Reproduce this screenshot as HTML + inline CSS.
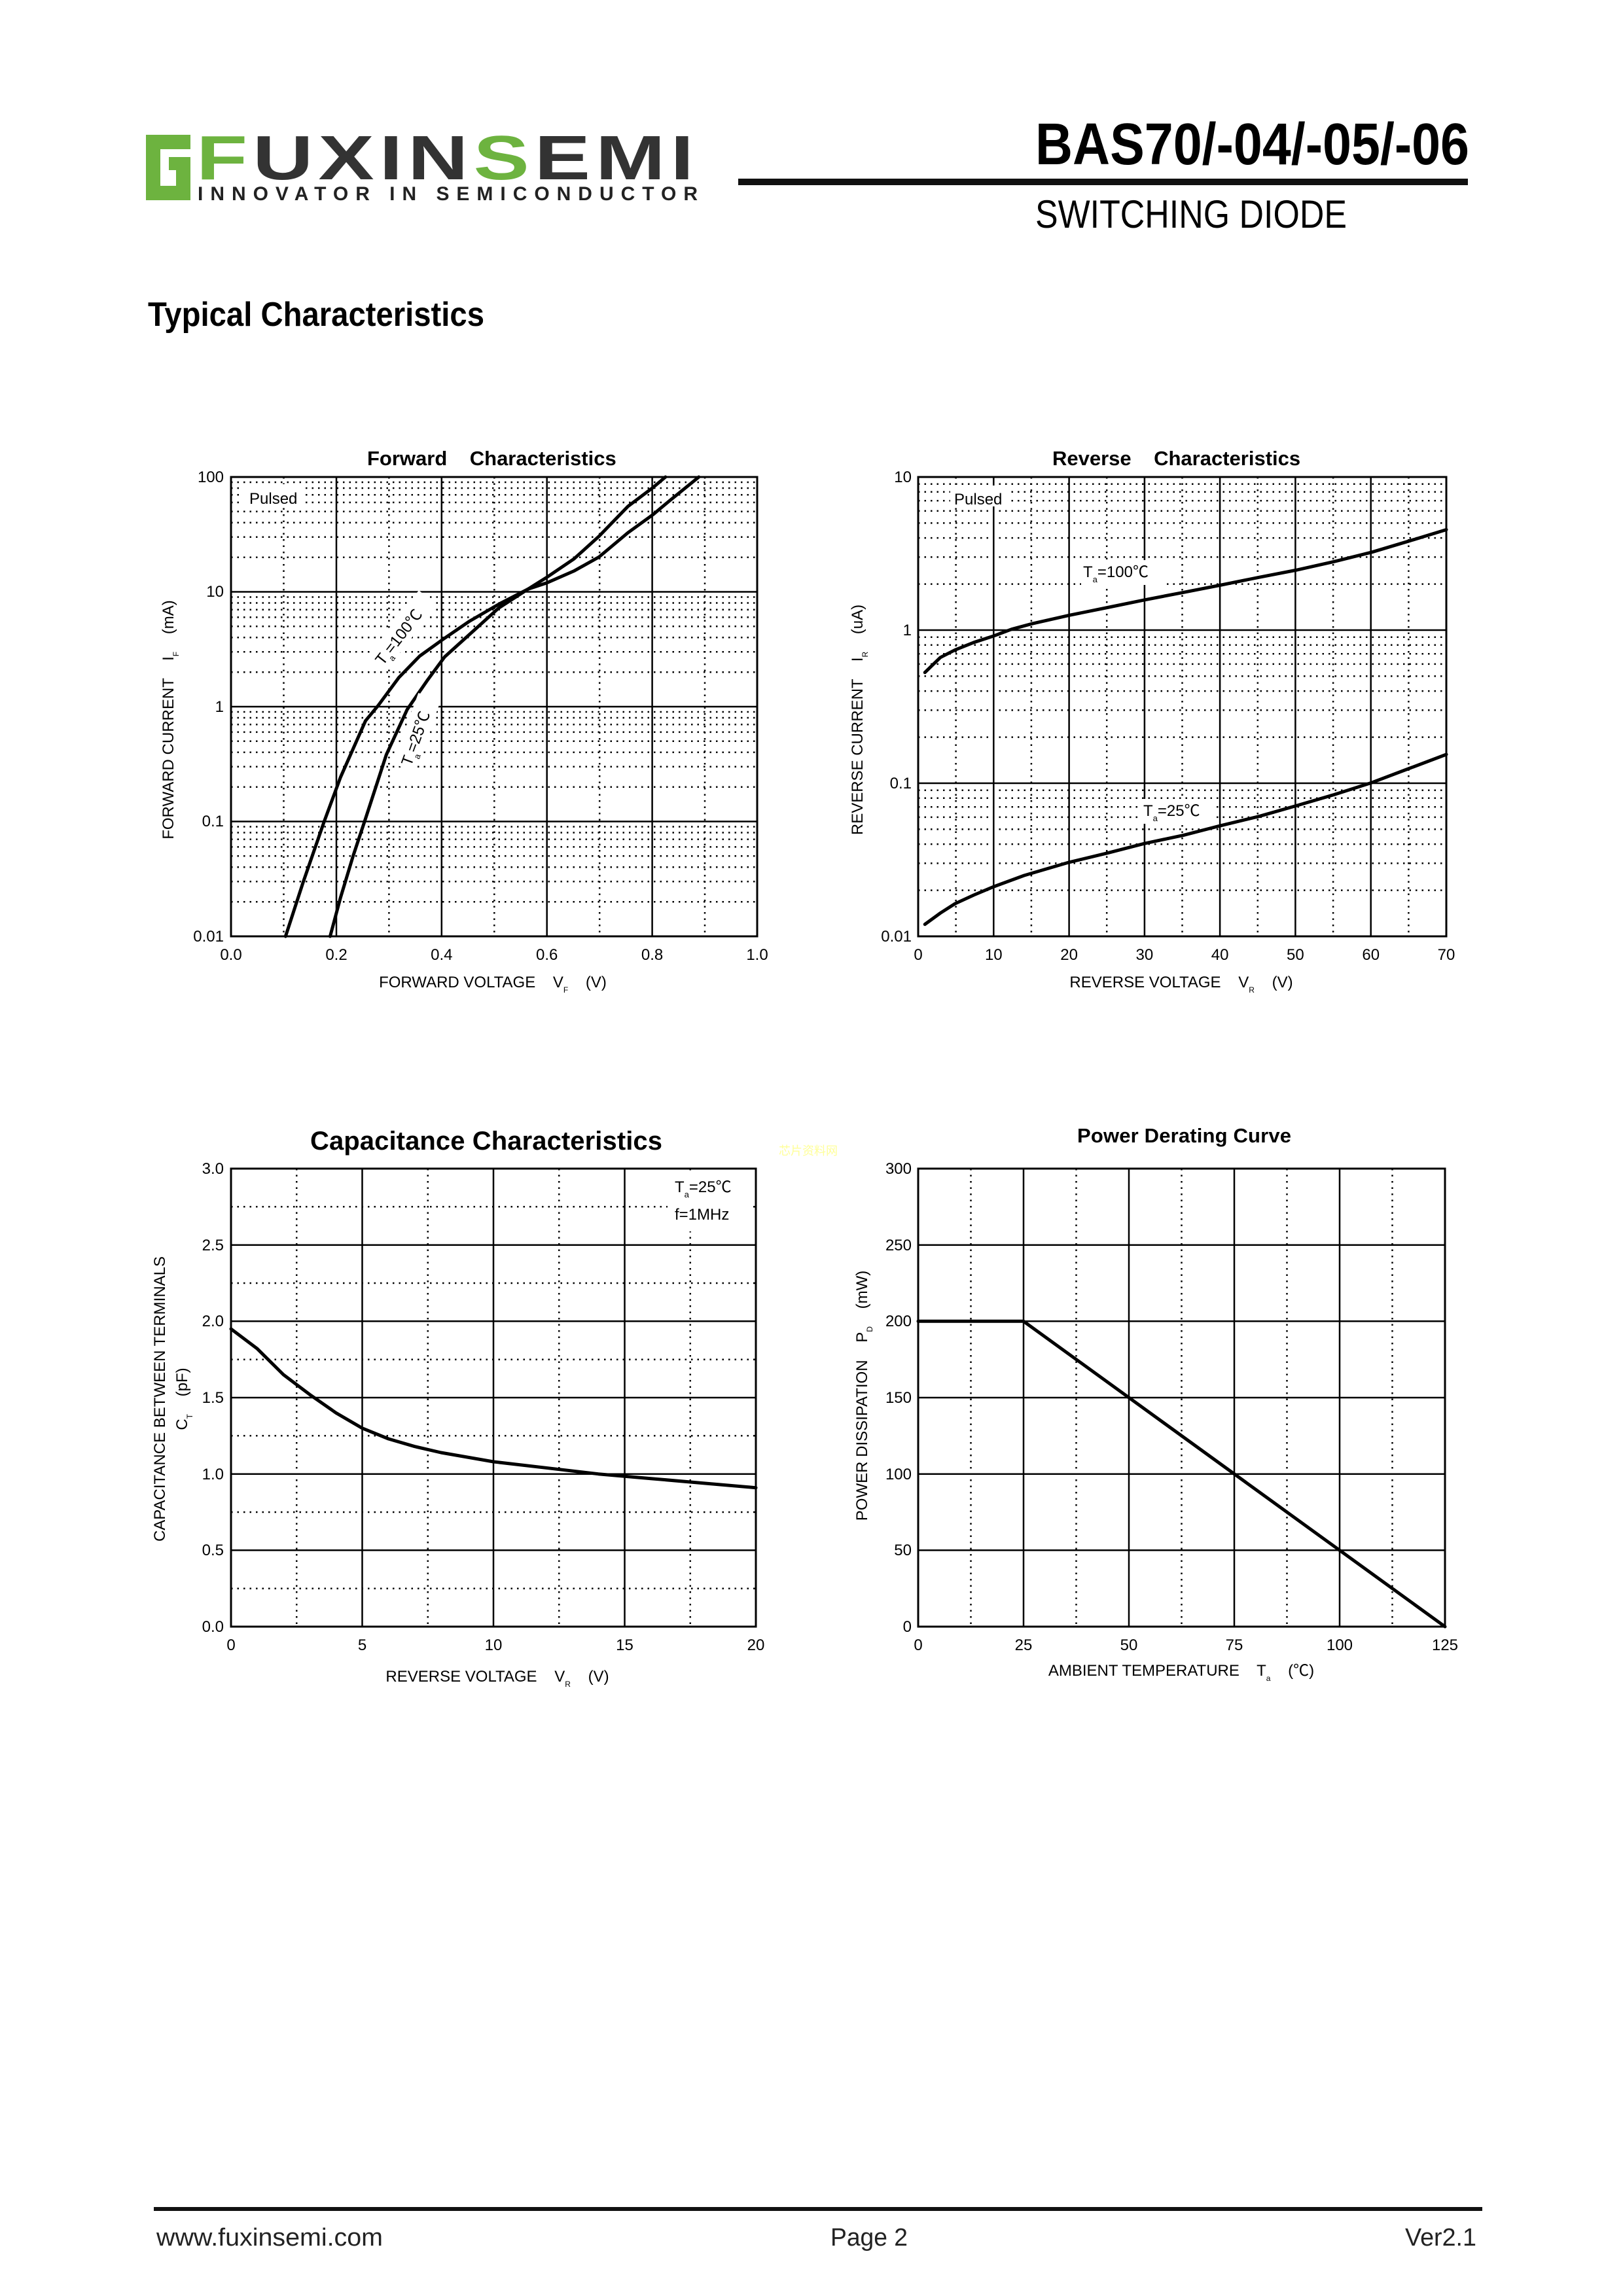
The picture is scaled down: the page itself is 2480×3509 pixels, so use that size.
<!DOCTYPE html>
<html><head><meta charset="utf-8"><style>
html,body{margin:0;padding:0;background:#fff;}
svg{display:block;}
text{font-family:"Liberation Sans","Noto Sans CJK SC",sans-serif;fill:#000;}
.t{font-size:24px;}
.b{font-weight:bold;}
.mj{stroke:#000;stroke-width:2.5;fill:none;}
.dt{stroke:#000;stroke-width:2.5;stroke-dasharray:2.5 7;fill:none;}
.fr{stroke:#000;stroke-width:3;fill:none;}
.cv{stroke:#000;stroke-width:5;fill:none;stroke-linejoin:round;stroke-linecap:round;}
</style></head><body>
<svg width="2480" height="3509" viewBox="0 0 2480 3509" xmlns="http://www.w3.org/2000/svg">
<rect width="2480" height="3509" fill="#fff"/>
<!-- Logo -->
<g fill="#6db33f">
<rect x="223" y="206" width="68" height="22"/>
<rect x="223" y="206" width="22" height="100"/>
<rect x="223" y="284" width="68" height="22"/>
<rect x="258" y="240" width="33" height="20"/>
<rect x="269" y="240" width="22" height="66"/>
</g>
<text x="300" y="274" font-size="96" font-weight="bold" textLength="768" lengthAdjust="spacingAndGlyphs" style="fill:#333;letter-spacing:6px"><tspan style="fill:#6db33f">F</tspan>UXIN<tspan style="fill:#6db33f">S</tspan>EMI</text>
<text x="302" y="306" font-size="30" font-weight="bold" textLength="764" lengthAdjust="spacing" style="fill:#222">INNOVATOR IN SEMICONDUCTOR</text>
<!-- Header -->
<text x="1582" y="251" font-size="90" class="b" textLength="663" lengthAdjust="spacingAndGlyphs">BAS70/-04/-05/-06</text>
<rect x="1128" y="273" width="1115" height="10" fill="#111"/>
<text x="1582" y="348" font-size="60" textLength="476" lengthAdjust="spacingAndGlyphs">SWITCHING DIODE</text>
<text x="226" y="498" font-size="52" class="b" textLength="514" lengthAdjust="spacingAndGlyphs">Typical Characteristics</text>

<!-- ===== Forward ===== -->
<text x="561" y="711" font-size="31" class="b" xml:space="preserve">Forward    Characteristics</text>
<g class="dt">
<path d="M353 1378.2H1157M353 1347.3H1157M353 1325.3H1157M353 1308.3H1157M353 1294.4H1157M353 1282.7H1157M353 1272.5H1157M353 1263.5H1157"/>
<path d="M353 1202.7H1157M353 1171.8H1157M353 1149.8H1157M353 1132.8H1157M353 1118.9H1157M353 1107.2H1157M353 1097H1157M353 1088H1157"/>
<path d="M353 1027.2H1157M353 996.3H1157M353 974.3H1157M353 957.3H1157M353 943.4H1157M353 931.7H1157M353 921.5H1157M353 912.5H1157"/>
<path d="M353 851.7H1157M353 820.8H1157M353 798.8H1157M353 781.8H1157M353 767.9H1157M353 756.2H1157M353 746H1157M353 737H1157"/>
<path d="M433.5 729V1431M594.4 729V1431M755.3 729V1431M916.2 729V1431M1077 729V1431"/>
</g>
<path class="mj" d="M353 1255.5H1157M353 1080H1157M353 904.5H1157M514 729V1431M674.8 729V1431M835.7 729V1431M996.6 729V1431"/>
<rect x="372" y="740" width="90" height="32" fill="#fff"/>
<text x="381" y="770" class="t">Pulsed</text>
<g transform="matrix(0.6365 0 0 0.5749 221.2 658.9)">
<path class="cv" vector-effect="non-scaling-stroke" d="M338 1343L380 1200L430 1040L470 920L530 770L560 730L610 655L660 598L714 555L780 505L850 460L920 420L966 388L1030 340L1090 280L1160 200L1220 150L1250 122"/>
<path class="cv" vector-effect="non-scaling-stroke" d="M445 1343L470 1240L500 1130L530 1030L580 860L630 740L680 660L720 600L790 530L850 470L920 420L966 403L1030 372L1090 335L1160 270L1220 222L1260 185L1330 122"/>
</g>
<g transform="translate(585,1018) rotate(-52)"><rect x="-5" y="-28" width="130" height="36" fill="#fff"/><text x="0" y="0" class="t">T<tspan font-size="13" dy="8">a</tspan><tspan dy="-8">=100℃</tspan></text></g>
<g transform="translate(628,1172) rotate(-70)"><rect x="-5" y="-28" width="115" height="36" fill="#fff"/><text x="0" y="0" class="t">T<tspan font-size="13" dy="8">a</tspan><tspan dy="-8">=25℃</tspan></text></g>
<rect x="353" y="729" width="804" height="702" class="fr"/>
<g class="t" text-anchor="end"><text x="342" y="737" class="t">100</text><text x="342" y="912" class="t">10</text><text x="342" y="1088" class="t">1</text><text x="342" y="1263" class="t">0.1</text><text x="342" y="1439" class="t">0.01</text></g>
<g text-anchor="middle"><text x="353" y="1467" class="t">0.0</text><text x="514" y="1467" class="t">0.2</text><text x="674.8" y="1467" class="t">0.4</text><text x="835.7" y="1467" class="t">0.6</text><text x="996.6" y="1467" class="t">0.8</text><text x="1157" y="1467" class="t">1.0</text></g>
<text x="753" y="1509" class="t" text-anchor="middle" xml:space="preserve">FORWARD VOLTAGE    V<tspan font-size="12" dy="8">F</tspan><tspan dy="-8">    (V)</tspan></text>
<text transform="translate(265,1100) rotate(-90)" class="t" text-anchor="middle" xml:space="preserve">FORWARD CURRENT    I<tspan font-size="12" dy="8">F</tspan><tspan dy="-8">    (mA)</tspan></text>

<!-- ===== Reverse ===== -->
<text x="1608" y="711" font-size="31" class="b" xml:space="preserve">Reverse    Characteristics</text>
<g class="dt">
<path d="M1403 1360.6H2210M1403 1319.4H2210M1403 1290.1H2210M1403 1267.4H2210M1403 1248.9H2210M1403 1233.2H2210M1403 1219.7H2210M1403 1207.7H2210"/>
<path d="M1403 1126.6H2210M1403 1085.4H2210M1403 1056.1H2210M1403 1033.4H2210M1403 1014.9H2210M1403 999.2H2210M1403 985.7H2210M1403 973.7H2210"/>
<path d="M1403 892.6H2210M1403 851.4H2210M1403 822.1H2210M1403 799.4H2210M1403 780.9H2210M1403 765.2H2210M1403 751.7H2210M1403 739.7H2210"/>
<path d="M1460.6 729V1431M1575.9 729V1431M1691.2 729V1431M1806.5 729V1431M1921.8 729V1431M2037.1 729V1431M2152.4 729V1431"/>
</g>
<path class="mj" d="M1403 1197H2210M1403 963H2210M1518.3 729V1431M1633.6 729V1431M1748.9 729V1431M1864.1 729V1431M1979.4 729V1431M2094.7 729V1431"/>
<rect x="1452" y="742" width="88" height="32" fill="#fff"/>
<text x="1458" y="771" class="t">Pulsed</text>
<g transform="matrix(0.640 0 0 0.5745 1244.9 648.6)">
<path class="cv" vector-effect="non-scaling-stroke" d="M263 660L300 620L335 600L380 580L427 563L470 545L520 530L607 508L700 487L787 467L880 447L967 428L1060 407L1148 388L1240 365L1330 340L1420 310L1508 280"/>
<path class="cv" vector-effect="non-scaling-stroke" d="M263 1330L300 1300L335 1275L380 1252L427 1230L500 1200L607 1165L700 1140L787 1115L880 1093L967 1068L1060 1043L1148 1015L1240 985L1330 953L1420 915L1508 878"/>
</g>
<rect x="1652" y="856" width="125" height="38" fill="#fff"/>
<text x="1655" y="882" class="t">T<tspan font-size="13" dy="8">a</tspan><tspan dy="-8">=100℃</tspan></text>
<rect x="1744" y="1221" width="110" height="38" fill="#fff"/>
<text x="1747" y="1247" class="t">T<tspan font-size="13" dy="8">a</tspan><tspan dy="-8">=25℃</tspan></text>
<rect x="1403" y="729" width="807" height="702" class="fr"/>
<g text-anchor="end"><text x="1393" y="737" class="t">10</text><text x="1393" y="971" class="t">1</text><text x="1393" y="1205" class="t">0.1</text><text x="1393" y="1439" class="t">0.01</text></g>
<g text-anchor="middle"><text x="1403" y="1467" class="t">0</text><text x="1518.3" y="1467" class="t">10</text><text x="1633.6" y="1467" class="t">20</text><text x="1748.9" y="1467" class="t">30</text><text x="1864.1" y="1467" class="t">40</text><text x="1979.4" y="1467" class="t">50</text><text x="2094.7" y="1467" class="t">60</text><text x="2210" y="1467" class="t">70</text></g>
<text x="1805" y="1509" class="t" text-anchor="middle" xml:space="preserve">REVERSE VOLTAGE    V<tspan font-size="12" dy="8">R</tspan><tspan dy="-8">    (V)</tspan></text>
<text transform="translate(1318,1100) rotate(-90)" class="t" text-anchor="middle" xml:space="preserve">REVERSE CURRENT    I<tspan font-size="12" dy="8">R</tspan><tspan dy="-8">    (uA)</tspan></text>

<!-- ===== Capacitance ===== -->
<text x="474" y="1757" font-size="40" class="b" textLength="538" lengthAdjust="spacing">Capacitance Characteristics</text>
<text x="1190" y="1765" font-size="18" style="fill:#ffff99">芯片资料网</text>
<g class="dt">
<path d="M453.25 1786V2486M653.75 1786V2486M854.25 1786V2486M1054.75 1786V2486"/>
<path d="M353 2427.7H1155M353 2311H1155M353 2194.3H1155M353 2077.7H1155M353 1961H1155M353 1844.3H1155"/>
</g>
<path class="mj" d="M553.5 1786V2486M754 1786V2486M954.5 1786V2486M353 2369.3H1155M353 2252.7H1155M353 2136H1155M353 2019.3H1155M353 1902.7H1155"/>
<rect x="1020" y="1790" width="130" height="92" fill="#fff"/>
<text x="1031" y="1822" class="t">T<tspan font-size="13" dy="8">a</tspan><tspan dy="-8">=25℃</tspan></text>
<text x="1031" y="1864" class="t">f=1MHz</text>
<path class="cv" d="M353 2031L393.1 2061.3L433.2 2101L473.3 2131.3L513.4 2159.3L553.5 2182.7L593.6 2199L633.7 2210.7L673.8 2220L754 2234L834.2 2243.3L914.4 2252.7L994.6 2259.7L1074.8 2266.7L1155 2273.7"/>
<rect x="353" y="1786" width="802" height="700" class="fr"/>
<g text-anchor="end"><text x="342" y="1794" class="t">3.0</text><text x="342" y="1911" class="t">2.5</text><text x="342" y="2027" class="t">2.0</text><text x="342" y="2144" class="t">1.5</text><text x="342" y="2261" class="t">1.0</text><text x="342" y="2377" class="t">0.5</text><text x="342" y="2494" class="t">0.0</text></g>
<g text-anchor="middle"><text x="353" y="2522" class="t">0</text><text x="553.5" y="2522" class="t">5</text><text x="754" y="2522" class="t">10</text><text x="954.5" y="2522" class="t">15</text><text x="1155" y="2522" class="t">20</text></g>
<text x="760" y="2570" class="t" text-anchor="middle" xml:space="preserve">REVERSE VOLTAGE    V<tspan font-size="12" dy="8">R</tspan><tspan dy="-8">    (V)</tspan></text>
<text transform="translate(252,2138) rotate(-90)" class="t" text-anchor="middle">CAPACITANCE BETWEEN TERMINALS</text>
<text transform="translate(286,2138) rotate(-90)" class="t" text-anchor="middle" xml:space="preserve">C<tspan font-size="12" dy="8">T</tspan><tspan dy="-8">    (pF)</tspan></text>

<!-- ===== Power ===== -->
<text x="1646" y="1746" font-size="31" class="b" textLength="327" lengthAdjust="spacing">Power Derating Curve</text>
<path class="dt" d="M1483.5 1786V2486M1644.5 1786V2486M1805.5 1786V2486M1966.5 1786V2486M2127.5 1786V2486"/>
<path class="mj" d="M1564 1786V2486M1725 1786V2486M1886 1786V2486M2047 1786V2486M1403 2369.3H2208M1403 2252.7H2208M1403 2136H2208M1403 2019.3H2208M1403 1902.7H2208"/>
<path class="cv" d="M1403 2019.3L1564 2019.3L2208 2486"/>
<rect x="1403" y="1786" width="805" height="700" class="fr"/>
<g text-anchor="end"><text x="1393" y="1794" class="t">300</text><text x="1393" y="1911" class="t">250</text><text x="1393" y="2027" class="t">200</text><text x="1393" y="2144" class="t">150</text><text x="1393" y="2261" class="t">100</text><text x="1393" y="2377" class="t">50</text><text x="1393" y="2494" class="t">0</text></g>
<g text-anchor="middle"><text x="1403" y="2522" class="t">0</text><text x="1564" y="2522" class="t">25</text><text x="1725" y="2522" class="t">50</text><text x="1886" y="2522" class="t">75</text><text x="2047" y="2522" class="t">100</text><text x="2208" y="2522" class="t">125</text></g>
<text x="1805" y="2561" class="t" text-anchor="middle" xml:space="preserve">AMBIENT TEMPERATURE    T<tspan font-size="12" dy="8">a</tspan><tspan dy="-8">    (℃)</tspan></text>
<text transform="translate(1325,2133) rotate(-90)" class="t" text-anchor="middle" xml:space="preserve">POWER DISSIPATION    P<tspan font-size="12" dy="8">D</tspan><tspan dy="-8">    (mW)</tspan></text>

<!-- Footer -->
<rect x="235" y="3373" width="2030" height="6" fill="#111"/>
<text x="239" y="3432" font-size="38" textLength="346" lengthAdjust="spacingAndGlyphs" style="fill:#222">www.fuxinsemi.com</text>
<text x="1269" y="3432" font-size="38" textLength="118" lengthAdjust="spacingAndGlyphs" style="fill:#222">Page 2</text>
<text x="2147" y="3432" font-size="38" textLength="109" lengthAdjust="spacingAndGlyphs" style="fill:#222">Ver2.1</text>
</svg>
</body></html>
